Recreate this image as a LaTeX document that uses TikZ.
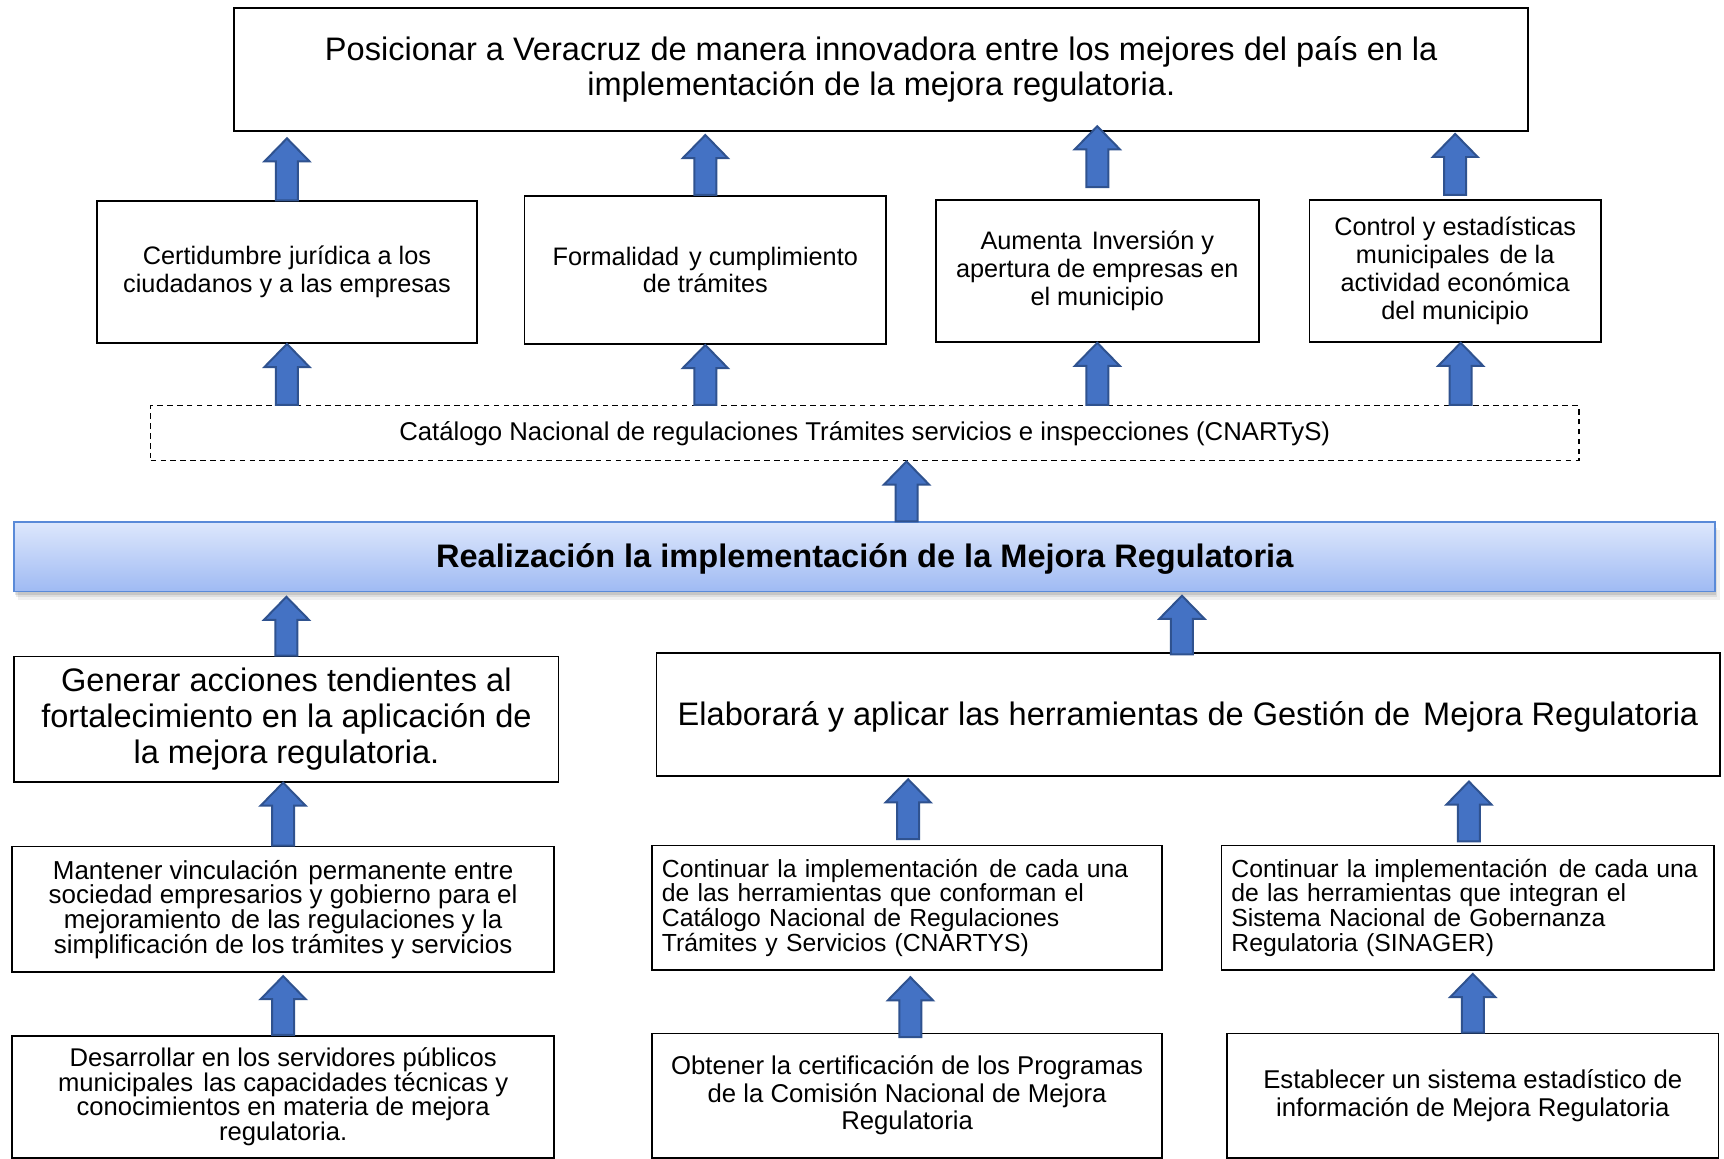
\documentclass[tikz,border=0pt]{standalone}
\usepackage{fontspec}
\setmainfont{Liberation Sans}
\usetikzlibrary{calc}
\definecolor{arrfill}{HTML}{4472C4}
\definecolor{arrline}{HTML}{2F528F}
\definecolor{bantop}{HTML}{DDE7FC}
\definecolor{banbot}{HTML}{9FBAF3}
\definecolor{banline}{HTML}{5A8AD8}
\newcommand{\dsp}{\hspace{0.12em}\ }
\tikzset{
  box/.style={draw, line width=1.6pt, inner sep=0pt, align=center, fill=white},
  dashbox/.style={draw, line width=1.4pt, dash pattern=on 5pt off 4pt, inner sep=0pt, align=center},
  ftop/.style={font=\fontsize{29.6}{32}\selectfont},
  frow/.style={font=\fontsize{23}{25.3}\selectfont},
  fcat/.style={font=\fontsize{23.4}{26}\selectfont},
  fban/.style={font=\fontsize{29.6}{32}\selectfont\bfseries},
  fmid/.style={font=\fontsize{29.6}{32.5}\selectfont},
  fm/.style={font=\fontsize{23.6}{22.4}\selectfont},
  fc/.style={font=\fontsize{22.5}{22.4}\selectfont},
  fd/.style={font=\fontsize{23.3}{22.4}\selectfont},
  fob/.style={font=\fontsize{23.4}{25}\selectfont},
  leftbox/.style={align=left, text width={#1}},
  barrow/.style={fill=arrfill, draw=arrline, line width=1.8pt, line join=miter},
  banner/.style={draw=banline, line width=1.6pt, top color=bantop, bottom color=banbot, inner sep=0pt, align=center}
}
\newcommand{\bx}[7][]{\node[box,#1,minimum width={#4-#2},minimum height={#5-#3}] (#6) at ({(#2+#4)/2},{(#3+#5)/2}) {#7};}
\newcommand{\barr}[2]{\path[barrow] let \p1=#1, \p2=#2 in
  (\x1-10pt,\y1) -- (\x1-10pt,\y2-21pt) -- (\x1-20.5pt,\y2-21pt) -- (\x1,\y2) --
  (\x1+20.5pt,\y2-21pt) -- (\x1+10pt,\y2-21pt) -- (\x1+10pt,\y1) -- cycle;}
\begin{document}
\begin{tikzpicture}[x=1pt,y=-1pt]
\useasboundingbox (0,0) rectangle (1568,1054);
\fill[white] (0,0) rectangle (1568,1054);
% top
\bx[ftop]{213}{7}{1390}{119}{top}{Posicionar a Veracruz de manera innovadora entre los mejores del país en la\\implementación de la mejora regulatoria.}
% row 2
\bx[frow]{88}{183}{434}{312}{b1}{Certidumbre jurídica a los\\ciudadanos y a las empresas}
\bx[frow]{477}{178}{806}{313}{b2}{Formalidad\dsp y cumplimiento\\de trámites}
\bx[frow]{851}{182}{1145}{311}{b3}{Aumenta\dsp Inversión y\\apertura de empresas en\\el municipio}
\bx[frow]{1191}{182}{1456}{311}{b4}{Control y estadísticas\\municipales\dsp de la\\actividad económica\\del municipio}
% catalog dashed
\node[dashbox,fcat,minimum width=1299,minimum height=50] (cat) at (786.5,394) {Catálogo Nacional de regulaciones Trámites servicios e inspecciones (CNARTyS)};
% banner shadow
\fill[black,opacity=0.06] (16,482) rectangle (1564,546);
\fill[black,opacity=0.08] (15,480) rectangle (1562,543);
\fill[black,opacity=0.10] (14,478) rectangle (1561,541);
\node[banner,fban,minimum width=1547,minimum height=63,text depth=3pt] (ban) at (786.5,506.5) {Realización la implementación de la Mejora Regulatoria};
% mid
\bx[fmid]{13}{597}{508}{711}{g}{Generar acciones tendientes al\\fortalecimiento en la aplicación de\\la mejora regulatoria.}
\bx[fmid,text depth=2pt]{597}{594}{1564}{706}{e}{Elaborará y aplicar las herramientas de Gestión de\dsp Mejora Regulatoria}
% row 4
\bx[fm]{11}{770}{504}{884}{m}{Mantener vinculación\dsp permanente entre\\sociedad empresarios y gobierno para el\\mejoramiento\dsp de las regulaciones y la\\simplificación de los trámites y servicios}
\bx[fc,leftbox=446]{593}{769}{1057}{882}{c1}{Continuar la implementación\dsp de cada una\\de las herramientas que conforman el\\Catálogo Nacional de Regulaciones\\Trámites y Servicios (CNARTYS)}
\bx[fc,leftbox=430]{1111}{769}{1559}{882}{c2}{Continuar la implementación\dsp de cada una\\de las herramientas que integran el\\Sistema Nacional de Gobernanza\\Regulatoria (SINAGER)}
% row 5
\bx[fd]{11}{942}{504}{1053}{d}{Desarrollar en los servidores públicos\\municipales\dsp las capacidades técnicas y\\conocimientos en materia de mejora\\regulatoria.}
\bx[fob]{593}{940}{1057}{1053}{o}{Obtener la certificación de los Programas\\de la Comisión Nacional de Mejora\\Regulatoria}
\bx[fob]{1116}{940}{1563}{1053}{s}{Establecer un sistema estadístico de\\información de Mejora Regulatoria}
% arrows
\barr{(b1.north)}{($(b1.north |- top.south)+(0,6)$)}
\barr{(b2.north)}{($(b2.north |- top.south)+(0,3)$)}
\barr{($(b3.north)+(0,-11)$)}{($(b3.north |- top.south)+(0,-5)$)}
\barr{($(b4.north)+(0,-4)$)}{($(b4.north |- top.south)+(0,2)$)}
\barr{(b1.south |- cat.north)}{(b1.south)}
\barr{(b2.south |- cat.north)}{(b2.south)}
\barr{(b3.south |- cat.north)}{(b3.south)}
\barr{($(b4.south |- cat.north)+(5,0)$)}{($(b4.south)+(5,0)$)}
\barr{($(ban.north)+(38,0)$)}{($(cat.south)+(38,0)$)}
\barr{(g.north)}{($(g.north |- ban.south)+(0,4)$)}
\barr{($(e.north)+(-5.5,2)$)}{($(e.north |- ban.south)+(-5.5,3)$)}
\barr{(m.north)}{(m.north |- g.south)}
\barr{($(c1.north)+(1,-5)$)}{($(c1.north |- e.south)+(1,2)$)}
\barr{($(c2.north)+(1,-3)$)}{($(c2.north |- e.south)+(1,4)$)}
\barr{(d.north)}{($(m.south)+(0,3)$)}
\barr{($(o.north)+(3,4)$)}{($(c1.south)+(3,6)$)}
\barr{(s.north)}{($(s.north |- c2.south)+(0,3)$)}
\end{tikzpicture}
\end{document}
